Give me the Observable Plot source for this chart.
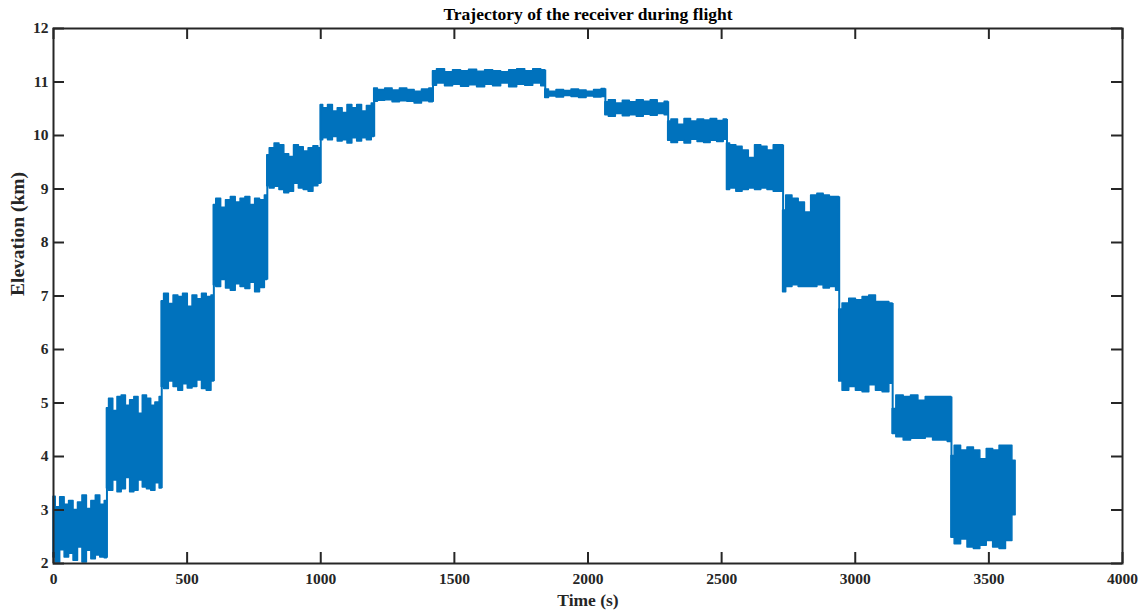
<!DOCTYPE html>
<html>
<head>
<meta charset="utf-8">
<script src="https://cdn.jsdelivr.net/npm/d3@7"></script>
<script src="https://cdn.jsdelivr.net/npm/@observablehq/plot@0.6"></script>
<style>
  body { margin: 0; background: #fff; }
  svg { display: block; }
</style>
</head>
<body>
<div id="chart"></div>
<script>
// Axis ticks
const xTicks = [0, 500, 1000, 1500, 2000, 2500, 3000, 3500, 4000];
const yTicks = [2, 3, 4, 5, 6, 7, 8, 9, 10, 11, 12];

// Flight segments (s): each one is a constant-altitude leg with noisy elevation
const segStart = [0, 200, 405, 600, 800, 1000, 1200, 1420, 1840, 2065, 2300, 2520, 2730, 2940, 3140, 3360];
const segEnd   = [200, 405, 600, 800, 1000, 1200, 1420, 1840, 2065, 2300, 2520, 2730, 2940, 3140, 3360, 3600];

// Upper envelope of the measured elevation inside each segment (km)
const segHigh = [
  [3.25, 3.05, 3.24, 3.10, 3.17, 3.00, 3.14, 3.27, 3.02, 3.17, 3.27, 3.10, 3.17],
  [4.90, 5.08, 4.85, 5.11, 5.14, 4.95, 5.05, 5.11, 4.80, 5.14, 5.08, 4.95, 5.01, 5.11],
  [6.90, 7.04, 6.85, 7.01, 6.98, 7.04, 6.80, 7.01, 6.94, 7.04, 6.98, 7.01],
  [8.70, 8.82, 8.65, 8.79, 8.85, 8.75, 8.82, 8.85, 8.70, 8.82, 8.79, 8.88],
  [9.63, 9.76, 9.85, 9.82, 9.65, 9.60, 9.82, 9.78, 9.70, 9.76, 9.80, 9.76],
  [10.57, 10.51, 10.57, 10.45, 10.51, 10.42, 10.57, 10.51, 10.57, 10.45, 10.55, 10.60],
  [10.88, 10.85, 10.88, 10.84, 10.88, 10.85, 10.82, 10.86, 10.88],
  [11.20, 11.24, 11.18, 11.22, 11.20, 11.23, 11.19, 11.22, 11.20, 11.18, 11.22, 11.24, 11.20, 11.24, 11.22],
  [10.86, 10.82, 10.85, 10.83, 10.86, 10.84, 10.82, 10.85, 10.87],
  [10.62, 10.66, 10.60, 10.65, 10.62, 10.66, 10.63, 10.66, 10.60, 10.63],
  [10.26, 10.30, 10.20, 10.31, 10.26, 10.30, 10.28, 10.31, 10.27, 10.30],
  [9.85, 9.82, 9.79, 9.72, 9.58, 9.82, 9.79, 9.72, 9.82, 9.82],
  [8.60, 8.88, 8.82, 8.75, 8.56, 8.88, 8.91, 8.88, 8.85, 8.85],
  [6.75, 6.86, 6.95, 6.92, 6.98, 7.01, 6.89, 6.89, 6.86],
  [4.89, 5.14, 5.11, 5.14, 5.04, 5.11, 5.11, 5.11, 5.11],
  [4.01, 4.20, 4.11, 4.17, 4.11, 3.95, 4.14, 4.11, 4.20, 4.20, 3.92]
];

// Lower envelope of the measured elevation inside each segment (km)
const segLow = [
  [2.11, 2.02, 2.25, 2.11, 2.18, 2.05, 2.30, 2.02, 2.24, 2.08, 2.15, 2.11, 2.10],
  [3.40, 3.36, 3.55, 3.33, 3.39, 3.60, 3.33, 3.36, 3.55, 3.42, 3.39, 3.36, 3.50, 3.40],
  [5.30, 5.26, 5.40, 5.30, 5.23, 5.35, 5.27, 5.30, 5.42, 5.26, 5.23, 5.40],
  [7.20, 7.17, 7.30, 7.14, 7.10, 7.22, 7.17, 7.13, 7.25, 7.07, 7.15, 7.30],
  [9.05, 9.01, 9.04, 8.98, 8.92, 8.95, 9.10, 9.01, 8.98, 8.95, 9.05, 9.10],
  [9.91, 9.95, 9.91, 9.97, 9.89, 9.91, 9.85, 9.95, 9.89, 9.95, 9.91, 9.97],
  [10.63, 10.65, 10.66, 10.62, 10.64, 10.63, 10.60, 10.64, 10.62],
  [10.93, 10.97, 10.92, 10.95, 10.91, 10.94, 10.90, 10.95, 10.92, 10.97, 10.90, 10.95, 10.93, 10.97, 10.92],
  [10.70, 10.73, 10.71, 10.74, 10.72, 10.70, 10.73, 10.71, 10.72],
  [10.38, 10.35, 10.40, 10.36, 10.38, 10.35, 10.39, 10.37, 10.40, 10.38],
  [9.90, 9.86, 9.90, 9.85, 9.92, 9.88, 9.86, 9.90, 9.88, 9.92],
  [8.98, 9.01, 8.95, 8.98, 9.01, 8.98, 9.01, 8.98, 8.95, 8.95],
  [7.07, 7.17, 7.20, 7.17, 7.17, 7.17, 7.20, 7.14, 7.17, 7.10],
  [5.40, 5.23, 5.30, 5.23, 5.20, 5.33, 5.23, 5.20, 5.36],
  [4.42, 4.36, 4.30, 4.33, 4.33, 4.36, 4.30, 4.30, 4.27],
  [2.48, 2.36, 2.45, 2.30, 2.27, 2.33, 2.42, 2.30, 2.27, 2.42, 2.90]
];

// Layout
const W = 1145, H = 612;
const mL = 53, mR = 23, mT = 28, mB = 49;
const innerW = W - mL - mR, innerH = H - mT - mB;
const tickLen = 11;
const blue = "#0072BD";
const ink = "#262626";
const font = "'Liberation Serif', 'Times New Roman', serif";

// Envelope samples spread over each segment
const rows = [];
segStart.forEach((t0, i) => {
  const hi = segHigh[i], lo = segLow[i], n = hi.length;
  for (let j = 0; j < n; j++) {
    rows.push({seg: i, t: t0 + (segEnd[i] - t0) * j / (n - 1), hi: hi[j], lo: lo[j]});
  }
});

// Vertical jumps between consecutive segments
const jumps = segStart.slice(1).map((t, k) => {
  const a = k, b = k + 1;
  const la = segLow[a][segLow[a].length - 1], ha = segHigh[a][segHigh[a].length - 1];
  const lb = segLow[b][0], hb = segHigh[b][0];
  return {t, y1: Math.min(la, lb), y2: Math.max(ha, hb)};
});

const chart = Plot.plot({
  width: W,
  height: H,
  marginLeft: mL,
  marginRight: mR,
  marginTop: mT,
  marginBottom: mB,
  style: {fontFamily: font, background: "#fff", color: ink},
  x: {domain: [0, 4000]},
  y: {domain: [2, 12]},
  marks: [
    Plot.areaY(rows, {x: "t", y1: "lo", y2: "hi", z: "seg", curve: "step", fill: blue, stroke: blue, strokeWidth: 1.5}),
    Plot.ruleX(jumps, {x: "t", y1: "y1", y2: "y2", stroke: blue, strokeWidth: 2}),
    Plot.frame({stroke: ink, strokeWidth: 2}),
    // inward ticks on all four sides
    Plot.tickX(xTicks, {x: d => d, stroke: ink, strokeWidth: 2, insetTop: innerH - tickLen}),
    Plot.tickX(xTicks, {x: d => d, stroke: ink, strokeWidth: 2, insetBottom: innerH - tickLen}),
    Plot.tickY(yTicks, {y: d => d, stroke: ink, strokeWidth: 2, insetRight: innerW - tickLen}),
    Plot.tickY(yTicks, {y: d => d, stroke: ink, strokeWidth: 2, insetLeft: innerW - tickLen}),
    Plot.axisX(xTicks, {tickSize: 0, tickPadding: 9, tickFormat: d => String(d), fontSize: 15.5, fontWeight: "bold", fill: ink, label: null}),
    Plot.axisY(yTicks, {tickSize: 0, tickPadding: 5, tickFormat: d => String(d), fontSize: 15.5, fontWeight: "bold", fill: ink, label: null}),
    Plot.text(["Trajectory of the receiver during flight"], {frameAnchor: "top", dy: -21, fontSize: 17.5, fontWeight: "bold", fill: "#000"}),
    Plot.text(["Time (s)"], {frameAnchor: "bottom", dy: 42, fontSize: 17.5, fontWeight: "bold", fill: ink}),
    Plot.text(["Elevation (km)"], {frameAnchor: "left", dx: -36, rotate: -90, fontSize: 19.5, fontWeight: "bold", fill: ink})
  ]
});

document.getElementById("chart").appendChild(chart);
</script>
</body>
</html>
